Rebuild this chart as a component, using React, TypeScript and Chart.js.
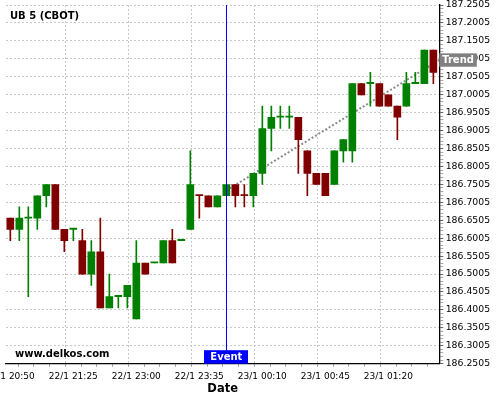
import React, { useEffect, useRef } from 'react';
import { Chart, registerables } from 'chart.js';

Chart.register(...registerables);

// ---------- data ----------
const xLabels = [
  '22/1 20:50', '22/1 20:55', '22/1 21:00', '22/1 21:05', '22/1 21:10', '22/1 21:15', '22/1 21:20',
  '22/1 21:25', '22/1 21:30', '22/1 21:35', '22/1 21:40', '22/1 21:45', '22/1 21:50', '22/1 21:55',
  '22/1 23:00', '22/1 23:05', '22/1 23:10', '22/1 23:15', '22/1 23:20', '22/1 23:25', '22/1 23:30',
  '22/1 23:35', '22/1 23:40', '22/1 23:45', '22/1 23:50', '22/1 23:55', '23/1 00:00', '23/1 00:05',
  '23/1 00:10', '23/1 00:15', '23/1 00:20', '23/1 00:25', '23/1 00:30', '23/1 00:35', '23/1 00:40',
  '23/1 00:45', '23/1 00:50', '23/1 00:55', '23/1 01:00', '23/1 01:05', '23/1 01:10', '23/1 01:15',
  '23/1 01:20', '23/1 01:25', '23/1 01:30', '23/1 01:35', '23/1 01:40', '23/1 01:45',
];

const opens = [
  186.65625, 186.625, 186.65625, 186.65625, 186.71875, 186.75, 186.625, 186.625,
  186.59375, 186.5, 186.5625, 186.40625, 186.4375, 186.4375, 186.375, 186.53125,
  186.53125, 186.53125, 186.59375, 186.59375, 186.625, 186.71875, 186.71875, 186.6875,
  186.71875, 186.75, 186.71875, 186.71875, 186.78125, 186.90625, 186.9375, 186.9375,
  186.9375, 186.84375, 186.78125, 186.78125, 186.75, 186.84375, 186.84375, 187.03125,
  187.03125, 187.03125, 187.0, 186.96875, 186.96875, 187.03125, 187.03125, 187.125,
];
const highs = [
  186.65625, 186.6875, 186.6875, 186.71875, 186.75, 186.75, 186.625, 186.625,
  186.625, 186.59375, 186.65625, 186.5, 186.4375, 186.46875, 186.59375, 186.53125,
  186.53125, 186.59375, 186.625, 186.59375, 186.84375, 186.71875, 186.71875, 186.71875,
  186.75, 186.75, 186.75, 186.78125, 186.96875, 186.96875, 186.96875, 186.96875,
  186.9375, 186.84375, 186.78125, 186.78125, 186.84375, 186.875, 187.03125, 187.03125,
  187.0625, 187.03125, 187.0, 186.96875, 187.0625, 187.0625, 187.125, 187.125,
];
const lows = [
  186.59375, 186.59375, 186.4375, 186.625, 186.6875, 186.625, 186.5625, 186.59375,
  186.5, 186.46875, 186.40625, 186.40625, 186.40625, 186.40625, 186.375, 186.5,
  186.53125, 186.53125, 186.53125, 186.59375, 186.625, 186.65625, 186.6875, 186.6875,
  186.71875, 186.6875, 186.6875, 186.6875, 186.75, 186.84375, 186.90625, 186.90625,
  186.78125, 186.71875, 186.75, 186.71875, 186.75, 186.8125, 186.8125, 187.0,
  186.96875, 186.96875, 186.96875, 186.875, 186.96875, 187.03125, 187.03125, 187.03125,
];
const closes = [
  186.625, 186.65625, 186.65625, 186.71875, 186.75, 186.625, 186.59375, 186.625,
  186.5, 186.5625, 186.40625, 186.4375, 186.4375, 186.46875, 186.53125, 186.5,
  186.53125, 186.59375, 186.53125, 186.59375, 186.75, 186.71875, 186.6875, 186.71875,
  186.75, 186.71875, 186.71875, 186.78125, 186.90625, 186.9375, 186.9375, 186.9375,
  186.875, 186.78125, 186.75, 186.71875, 186.84375, 186.875, 187.03125, 187.0,
  187.03125, 186.96875, 186.96875, 186.9375, 187.03125, 187.03125, 187.125, 187.0625,
];
// doji candles (open == close) drawn in the falling colour
const dojiFalling = [21, 26];

const eventIndex = 24;
const trendX = [24, 47.66];
const trendY = [186.7337, 187.097];

const yMin = 186.2505;
const yMax = 187.2505;
const yMinorStep = 0.01;
const yMajorEvery = 5;
const xMinorStep = 1.75;
const xMajorEvery = 4;

const titleText = 'UB 5 (CBOT)';
const watermarkText = 'www.delkos.com';
const xAxisTitle = 'Date';
const eventText = 'Event';
const trendText = 'Trend';

// ---------- styles ----------
const GREEN = '#008000';
const RED = '#800000';
const FONT = '"DejaVu Sans", Verdana, sans-serif';

const yTickValues = Array.from({ length: Math.round((yMax - yMin) / yMinorStep) + 1 }, (_, k) =>
  Number((yMin + k * yMinorStep).toFixed(4))
);
const xTickValues = Array.from({ length: 28 }, (_, k) => Number((k * xMinorStep).toFixed(4)));

const overlayPlugin = {
  id: 'overlay',
  afterDatasetsDraw(chart: any) {
    const { ctx, chartArea, scales } = chart;
    const x = scales.x.getPixelForValue(eventIndex);
    ctx.save();
    // event line
    ctx.strokeStyle = '#0000ff';
    ctx.lineWidth = 1;
    ctx.beginPath();
    ctx.moveTo(Math.round(x) + 0.5, chartArea.top);
    ctx.lineTo(Math.round(x) + 0.5, chartArea.bottom);
    ctx.stroke();
    // event box
    ctx.font = `bold 10px ${FONT}`;
    const w = ctx.measureText(eventText).width + 12;
    const h = 13.5;
    ctx.fillStyle = '#0000ff';
    ctx.fillRect(Math.round(x - w / 2), chartArea.bottom - h, Math.round(w), h);
    ctx.fillStyle = '#ffffff';
    ctx.textAlign = 'center';
    ctx.textBaseline = 'middle';
    ctx.fillText(eventText, x, chartArea.bottom - h / 2);
    // title + watermark
    ctx.fillStyle = '#000000';
    ctx.textAlign = 'left';
    ctx.textBaseline = 'alphabetic';
    ctx.fillText(titleText, chartArea.left + 4, chartArea.top + 14.3);
    ctx.fillText(watermarkText, chartArea.left + 9, chartArea.bottom - 6.4);
    ctx.restore();
  },
  afterDraw(chart: any) {
    const { ctx, chartArea, scales } = chart;
    const y = scales.y.getPixelForValue(trendY[1]);
    ctx.save();
    ctx.font = `bold 10px ${FONT}`;
    const w = 37.5;
    const h = 13.4;
    ctx.fillStyle = '#808080';
    ctx.fillRect(chartArea.right, y - h / 2, w, h);
    ctx.fillStyle = '#ffffff';
    ctx.textAlign = 'center';
    ctx.textBaseline = 'middle';
    ctx.fillText(trendText, chartArea.right + w / 2, y);
    ctx.restore();
  },
};

export default function App() {
  const canvasRef = useRef<HTMLCanvasElement | null>(null);

  useEffect(() => {
    document.body.style.margin = '0';
    const canvas = canvasRef.current;
    if (!canvas) return;

    const colors = opens.map((o, i) =>
      closes[i] > o ? GREEN : closes[i] < o ? RED : dojiFalling.includes(i) ? RED : GREEN
    );
    const bodyData = opens.map((o, i) => ({ x: i, y: [Math.min(o, closes[i]), Math.max(o, closes[i])] }));
    const wickData = highs.map((hv, i) => ({ x: i, y: [lows[i], hv] }));
    const trendData = trendX.map((xv, i) => ({ x: xv, y: trendY[i] }));

    const chart = new Chart(canvas, {
      type: 'bar',
      data: {
        datasets: [
          {
            type: 'bar',
            data: bodyData as any,
            backgroundColor: colors,
            barThickness: 7,
            minBarLength: 1.2,
            grouped: false,
            borderWidth: 0,
            order: 0,
          } as any,
          {
            type: 'bar',
            data: wickData as any,
            backgroundColor: colors,
            barThickness: 1,
            grouped: false,
            borderWidth: 0,
            order: 1,
          } as any,
          {
            type: 'line',
            data: trendData as any,
            borderColor: '#8c8c8c',
            borderWidth: 2,
            borderDash: [2, 2],
            pointRadius: 0,
            fill: false,
            order: 2,
          } as any,
        ],
      },
      options: {
        responsive: false,
        animation: false,
        events: [],
        layout: { padding: { left: 6, top: 5, right: 0, bottom: 0 } },
        plugins: { legend: { display: false }, tooltip: { enabled: false } },
        scales: {
          x: {
            type: 'linear',
            min: -0.48,
            max: 47.66,
            offset: false,
            afterBuildTicks: (scale: any) => {
              scale.ticks = xTickValues.map((v) => ({ value: v }));
            },
            afterFit: (scale: any) => {
              scale.height = 36.3;
              scale.paddingLeft = 0;
              scale.paddingRight = 0;
            },
            ticks: {
              autoSkip: false,
              maxRotation: 0,
              minRotation: 0,
              padding: 5,
              color: '#000',
              font: { family: FONT, size: 9 },
              callback: (_v: any, i: number) => (i % xMajorEvery === 0 ? xLabels[i * xMinorStep] ?? '' : ''),
            },
            grid: {
              color: (c: any) => (c.index % xMajorEvery === 0 ? '#c8c8c8' : 'rgba(0,0,0,0)'),
              tickColor: '#999',
              tickLength: 3,
              lineWidth: 1,
            },
            border: { color: '#000', width: 1.3, dash: [2, 2] },
            title: {
              display: true,
              text: xAxisTitle,
              color: '#000',
              font: { family: FONT, size: 11.5, weight: 'bold' },
              padding: { top: 0, bottom: 4 },
            },
          },
          y: {
            type: 'linear',
            position: 'right',
            min: yMin,
            max: yMax,
            afterBuildTicks: (scale: any) => {
              scale.ticks = yTickValues.map((v) => ({ value: v }));
            },
            afterFit: (scale: any) => {
              scale.width = 60.7;
              scale.paddingTop = 0;
              scale.paddingBottom = 0;
            },
            ticks: {
              autoSkip: false,
              padding: 2.4,
              color: '#000',
              font: { family: FONT, size: 9.3 },
              callback: (v: any, i: number) => (i % yMajorEvery === 0 ? Number(v).toFixed(4) : ''),
            },
            grid: {
              color: (c: any) => (c.index % yMajorEvery === 0 ? '#c8c8c8' : 'rgba(0,0,0,0)'),
              tickColor: (c: any) => (c.index % yMajorEvery === 0 ? '#666' : '#aaa'),
              tickLength: 4,
              lineWidth: 1,
            },
            border: { color: '#000', width: 1.3, dash: [2, 2] },
          },
        },
      } as any,
      plugins: [overlayPlugin],
    });

    return () => chart.destroy();
  }, []);

  return (
    <div style={{ width: 500, height: 400, background: '#fff' }}>
      <canvas ref={canvasRef} width={500} height={400} style={{ display: 'block' }} />
    </div>
  );
}
